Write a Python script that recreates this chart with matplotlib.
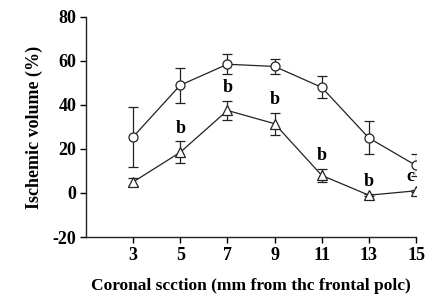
import matplotlib
matplotlib.use('Agg')
import matplotlib.pyplot as plt

plt.rcParams['font.family'] = ['Liberation Serif', 'DejaVu Serif']
plt.rcParams['font.weight'] = 'bold'
plt.rcParams['axes.unicode_minus'] = False

sections = [3, 5, 7, 9, 11, 13, 15]
circle_vals = [25.5, 49, 58.5, 57.5, 48, 25, 12.5]
circle_err = [13.5, 8, 4.5, 3.5, 5, 7.5, 5]
tri_vals = [5, 18.5, 37.5, 31.5, 8, -1, 1]
tri_err = [2, 5, 4.5, 5, 3, 0.5, 0.5]
letters = ['', 'b', 'b', 'b', 'b', 'b', 'c']

fig = plt.figure(figsize=(4.32, 2.97), dpi=100)
ax = fig.add_axes([0.199, 0.202, 0.764, 0.741])

ax.errorbar(sections, circle_vals, yerr=circle_err, color='#222222', lw=0.9,
            marker='o', ms=6.5, mfc='white', mec='#222222', mew=0.9,
            capsize=3.5, elinewidth=0.9, capthick=0.9, zorder=3)
ax.errorbar(sections, tri_vals, yerr=tri_err, color='#222222', lw=0.9,
            marker='^', ms=6.5, mfc='white', mec='#222222', mew=0.9,
            capsize=3.5, elinewidth=0.9, capthick=0.9, zorder=3)

for x, v, e, t in zip(sections, tri_vals, tri_err, letters):
    if t:
        dx = -0.25 if t == 'c' else 0
        ax.text(x + dx, v + e + 2.0, t, ha='center', va='bottom',
                fontsize=13, fontweight='bold')

ax.set_xlim(1, 15)
ax.set_ylim(-20, 80)
ax.set_xticks(sections)
ax.set_yticks([-20, 0, 20, 40, 60, 80])
ax.spines['top'].set_visible(False)
ax.spines['right'].set_visible(False)
for s in ['left', 'bottom']:
    ax.spines[s].set_linewidth(1.0)
    ax.spines[s].set_color('#222222')
ax.tick_params(direction='out', length=4, width=1.0, labelsize=13, pad=3)
for lab in ax.get_xticklabels() + ax.get_yticklabels():
    lab.set_fontweight('bold')

ax.set_ylabel('Ischemic volume (%)', fontsize=13, fontweight='bold', labelpad=7)
ax.set_xlabel('Coronal scction (mm from thc frontal polc)', fontsize=12.5,
              fontweight='bold', labelpad=10)

fig.savefig('out.png', dpi=100)
